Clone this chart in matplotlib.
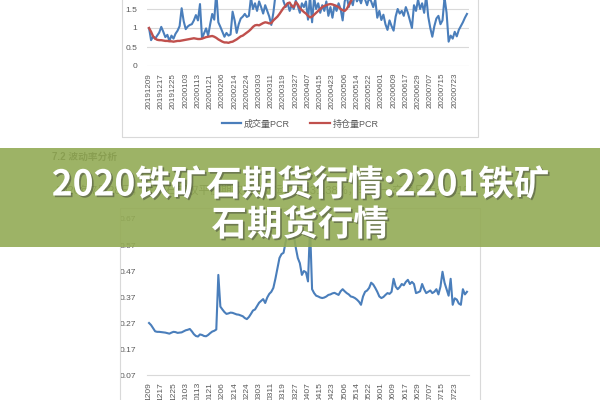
import numpy as np
import matplotlib
matplotlib.use("Agg")
import matplotlib.pyplot as plt
from matplotlib.patches import Rectangle
from matplotlib.lines import Line2D
import matplotlib.patheffects as pe

plt.rcParams['font.family'] = ['Liberation Sans', 'Noto Sans CJK SC']

tick_dates = ["20191209", "20191217", "20191225", "20200103", "20200113", "20200121",
              "20200206", "20200214", "20200224", "20200303", "20200311", "20200319",
              "20200327", "20200407", "20200415", "20200423", "20200506", "20200514",
              "20200522", "20200601", "20200609", "20200617", "20200629", "20200707",
              "20200715", "20200723"]

# 成交量PCR
vol_pcr = [1.00, 0.68, 0.78, 0.72, 0.80, 0.88, 1.03, 0.90, 0.76, 0.82,
           0.66, 0.80, 0.72, 0.85, 0.93, 1.05, 1.52, 1.18, 0.97, 1.04,
           1.08, 1.10, 1.20, 1.34, 1.20, 1.63, 0.73, 0.86, 0.99, 0.80,
           1.10, 1.37, 1.22, 1.95, 1.15, 1.03, 0.90, 0.77, 0.87, 0.80,
           0.83, 1.43, 1.20, 0.87, 1.10, 1.25, 1.30, 1.37, 1.29, 1.32,
           1.80, 1.50, 1.65, 1.45, 1.70, 1.55, 1.38, 1.60, 1.45, 1.30,
           1.08, 1.40, 1.85, 1.95, 1.80, 2.00, 1.70, 1.55, 1.65, 1.45,
           1.60, 1.50, 1.72, 1.58, 1.40, 1.65, 1.55, 1.70, 1.22, 1.85,
           1.15, 1.80, 1.50, 1.65, 1.40, 1.60, 1.45, 1.70, 1.32, 1.55,
           1.27, 1.60, 1.45, 1.65, 1.50, 1.20, 1.70, 1.85, 1.55, 1.75,
           1.60, 1.90, 1.70, 1.80, 1.65, 1.85, 1.75, 1.60, 1.80, 1.70,
           1.55, 1.75, 1.27, 1.45, 1.21, 1.35, 1.10, 0.95, 1.20, 1.05,
           0.93, 1.30, 1.50, 1.38, 1.45, 1.32, 1.55, 1.40, 1.20, 1.00,
           1.60, 1.45, 1.75, 1.50, 1.65, 1.40, 1.85, 1.30, 1.00, 0.77,
           1.05, 1.25, 1.32, 1.10, 1.20, 1.80, 1.40, 0.64, 0.80, 0.72,
           0.90, 0.78, 0.95, 1.05, 1.15, 1.27, 1.37]

# 持仓量PCR
oi_pcr = [1.00, 0.90, 0.78, 0.72, 0.69, 0.68, 0.68, 0.67, 0.66, 0.66,
          0.65, 0.65, 0.64, 0.65, 0.66, 0.66, 0.67, 0.68, 0.69, 0.70,
          0.71, 0.72, 0.73, 0.72, 0.71, 0.71, 0.72, 0.74, 0.76, 0.77,
          0.78, 0.79, 0.77, 0.74, 0.70, 0.67, 0.64, 0.62, 0.62, 0.61,
          0.63, 0.64, 0.67, 0.70, 0.74, 0.78, 0.80, 0.84, 0.88, 0.92,
          0.97, 1.03, 1.07, 1.08, 1.07, 1.10, 1.13, 1.15, 1.14, 1.12,
          1.13, 1.20, 1.25, 1.30, 1.37, 1.45, 1.53, 1.58, 1.65, 1.67,
          1.58, 1.55, 1.68, 1.62, 1.52, 1.47, 1.42, 1.38, 1.32, 1.28,
          1.30, 1.35, 1.40, 1.45, 1.50, 1.55, 1.58, 1.60, 1.62, 1.63,
          1.62, 1.60, 1.58, 1.55, 1.50, 1.47, 1.45, 1.50, 1.60, 1.70,
          1.80, 1.90, 1.95, 2.00, 2.05, 2.10, 2.12, 2.15, 2.15, 2.18,
          2.20, 2.22, 2.25, 2.28, 2.30, 2.28, 2.25, 2.22, 2.20, 2.18,
          2.15, 2.12, 2.10, 2.08, 2.10, 2.12, 2.15, 2.18, 2.20, 2.22,
          2.25, 2.28, 2.30, 2.32, 2.30, 2.28, 2.25, 2.22, 2.20, 2.18,
          2.15, 2.12, 2.10, 2.08, 2.05, 2.02, 2.00, 1.98, 1.96, 1.95,
          1.94, 1.93, 1.92, 1.92, 1.91, 1.90, 1.90]

# 隐含波动率
iv = [0.270, 0.262, 0.250, 0.238, 0.236, 0.236, 0.235, 0.234, 0.233, 0.231,
      0.229, 0.233, 0.236, 0.235, 0.232, 0.233, 0.234, 0.238, 0.242, 0.244,
      0.247, 0.238, 0.227, 0.220, 0.218, 0.226, 0.224, 0.220, 0.219, 0.224,
      0.231, 0.237, 0.240, 0.245, 0.455, 0.333, 0.322, 0.312, 0.305, 0.307,
      0.310, 0.309, 0.306, 0.303, 0.302, 0.299, 0.296, 0.289, 0.285, 0.293,
      0.305, 0.318, 0.322, 0.335, 0.348, 0.355, 0.362, 0.347, 0.368, 0.382,
      0.390, 0.405, 0.440, 0.480, 0.520, 0.535, 0.540, 0.580, 0.610, 0.600,
      0.620, 0.610, 0.560, 0.520, 0.500, 0.455, 0.470, 0.465, 0.430, 0.640,
      0.400, 0.385, 0.375, 0.372, 0.368, 0.366, 0.368, 0.372, 0.378, 0.380,
      0.384, 0.386, 0.382, 0.378, 0.392, 0.400, 0.392, 0.385, 0.380, 0.372,
      0.370, 0.366, 0.360, 0.352, 0.340, 0.372, 0.390, 0.395, 0.405, 0.425,
      0.418, 0.405, 0.390, 0.372, 0.366, 0.370, 0.378, 0.385, 0.382, 0.390,
      0.440, 0.410, 0.400, 0.408, 0.420, 0.415, 0.428, 0.436, 0.420, 0.428,
      0.420, 0.385, 0.388, 0.392, 0.420, 0.400, 0.385, 0.390, 0.395, 0.385,
      0.390, 0.400, 0.380, 0.410, 0.467, 0.425, 0.400, 0.375, 0.440, 0.340,
      0.365, 0.360, 0.345, 0.340, 0.400, 0.380, 0.390]

BLUE = "#4a7ebb"
RED = "#c0504d"
GRID = "#d9d9d9"
TXT = "#595959"


def px(x0, y0, x1, y1):
    # pixel box (from top-left) -> figure rect
    return [x0 / 600, 1 - y1 / 400, (x1 - x0) / 600, (y1 - y0) / 400]


fig = plt.figure(figsize=(6, 4), dpi=100)
tick_pos = np.arange(len(tick_dates)) * 6

# ---- upper chart: PCR ----
ax1 = fig.add_axes(px(147, -29, 469, 66))
ax1.set_facecolor("none")
ax1.plot(np.arange(len(vol_pcr)), vol_pcr, color=BLUE, lw=1.5)
ax1.plot(np.arange(len(oi_pcr)), oi_pcr, color=RED, lw=1.7)
ax1.set_xlim(-1, 157)
ax1.set_ylim(0, 2.5)
ax1.set_yticks([0, 0.5, 1, 1.5])
ax1.set_yticklabels(["0", "0.5", "1", "1.5"])
for g in [0, 0.5, 1, 1.5, 2]:
    ax1.axhline(g, color=GRID, lw=0.8, zorder=0)
ax1.set_xticks(tick_pos)
ax1.set_xticklabels(tick_dates, rotation=90)
ax1.tick_params(axis="both", length=0, colors=TXT, labelsize=6)
ax1.tick_params(axis="x", pad=5, labelsize=5.8)
ax1.tick_params(axis="y", pad=7)
for s in ax1.spines.values():
    s.set_visible(False)

handles = [Line2D([], [], color=BLUE, lw=1.6), Line2D([], [], color=RED, lw=1.6)]
fig.legend(handles, ["成交量PCR", "持仓量PCR"], loc="center",
           bbox_to_anchor=(300 / 600, 1 - 124 / 400), ncol=2, frameon=False,
           fontsize=6.5, labelcolor=TXT, handlelength=2.2, columnspacing=2.2,
           handletextpad=0.3)

# ---- lower chart: volatility ----
ax2 = fig.add_axes(px(147, 219, 469, 375))
ax2.set_facecolor("none")
ax2.plot(np.arange(len(iv)), iv, color=BLUE, lw=1.5)
ax2.set_xlim(-1, 157)
ax2.set_ylim(0.07, 0.67)
yt = [0.07, 0.17, 0.27, 0.37, 0.47, 0.57, 0.67]
ax2.set_yticks(yt)
ax2.set_yticklabels([f"{v:.2f}" for v in yt])
ax2.set_xticks(tick_pos)
ax2.set_xticklabels([d[4:] for d in tick_dates], rotation=90)
ax2.tick_params(axis="both", length=0, colors=TXT, labelsize=6)
ax2.tick_params(axis="x", pad=5, labelsize=6)
ax2.tick_params(axis="y", pad=8)
for k in ["top", "right", "left"]:
    ax2.spines[k].set_visible(False)
ax2.spines["bottom"].set_color(GRID)
ax2.spines["bottom"].set_linewidth(0.8)

# chart frames
fig.add_artist(Rectangle((122 / 600, 1 - 137 / 400), 356 / 600, 0.5,
                         transform=fig.transFigure, fill=False, ec=GRID, lw=0.8, zorder=0.5))
fig.add_artist(Rectangle((120 / 600, -0.1), 360 / 600, 0.1 + (400 - 208) / 400,
                         transform=fig.transFigure, fill=False, ec=GRID, lw=0.8, zorder=0.5))

# document text under banner
fig.text(52 / 600, 1 - 157 / 400, "7.2 波动率分析", fontsize=7, fontweight="bold",
         color="#333333", va="center", zorder=3)
fig.text(55 / 600, 1 - 190 / 400,
         "2020年7月28日，铁矿石期权平值期权隐含波动率为31.38%，较上一交易日上升1.1%",
         fontsize=8, color="#444444", va="center", zorder=3)

# banner
fig.add_artist(Rectangle((0, 1 - 247 / 400), 1, 99 / 400, transform=fig.transFigure,
                         fc="#93ab55", ec="none", alpha=0.9, zorder=5))
shadow = [pe.withSimplePatchShadow(offset=(1.2, -1.2), shadow_rgbFace="#333333", alpha=0.45)]
fig.text(0.5, 1 - 185 / 400, "2020铁矿石期货行情:2201铁矿", ha="center", va="center",
         fontsize=25.5, fontweight="heavy", color="white", zorder=10,
         family=["Noto Sans CJK SC", "DejaVu Sans"], path_effects=shadow)
fig.text(0.5, 1 - 225 / 400, "石期货行情", ha="center", va="center",
         fontsize=25.5, fontweight="heavy", color="white", zorder=10,
         family=["Noto Sans CJK SC", "DejaVu Sans"], path_effects=shadow)

fig.savefig("out.png", dpi=100)
